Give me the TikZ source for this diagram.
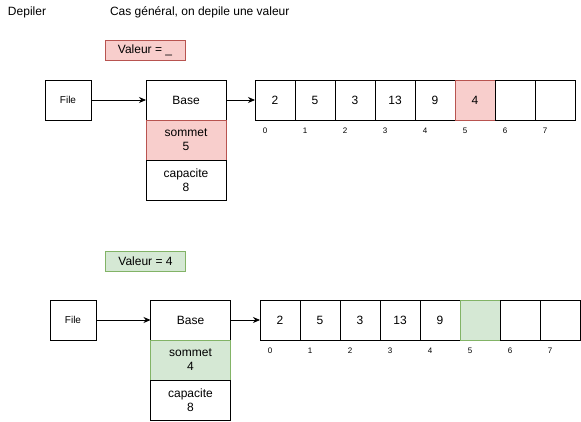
\documentclass[tikz,border=0pt]{standalone}
\usepackage{fontspec}
\setmainfont{Liberation Sans}
\usetikzlibrary{arrows.meta,positioning}
\definecolor{redfill}{HTML}{F8CECC}
\definecolor{redline}{HTML}{B85450}
\definecolor{greenfill}{HTML}{D5E8D4}
\definecolor{greenline}{HTML}{82B366}

\begin{document}
\begin{tikzpicture}[x=1pt, y=-1pt, line width=0.8pt,
    every node/.style={font=\fontsize{12}{14}\selectfont, inner sep=0pt, outer sep=0pt},
    box/.style={rectangle, draw, fill=white, minimum width=80pt, minimum height=40pt, align=center},
    filebox/.style={rectangle, draw, minimum width=46pt, minimum height=40pt,
        font=\fontsize{10}{12}\selectfont},
    cell/.style={rectangle, draw, minimum width=40pt, minimum height=40pt},
    idx/.style={font=\fontsize{8}{10}\selectfont},
    valbox/.style={rectangle, draw, minimum width=80pt, minimum height=20pt},
    redbox/.style={fill=redfill, draw=redline},
    greenbox/.style={fill=greenfill, draw=greenline},
    link/.style={-{Stealth[length=7pt, width=6pt]}},
]
\useasboundingbox (0,0) rectangle (581,422);

% Titles
\node[anchor=west] (title) at (8,12) {Depiler};
\node[anchor=west] (case) at (110,12) {Cas général, on depile une valeur};

% Before
\node[valbox, redbox] (valA) at (145,50) {Valeur = \_};
\node[filebox] (fileA) at (68,100) {File};
\node[box] (baseA) at (186,100) {Base};
\node[box, redbox, below=0pt of baseA] (topA) {sommet\\5};
\node[box, below=0pt of topA] (capA) {capacite\\8};
\foreach \v [count=\i from 0] in {2,5,3,13,9,4,{},{}} {
    \ifnum\i=5
        \node[cell, redbox] (a\i) at (275+40*\i,100) {\v};
    \else
        \node[cell] (a\i) at (275+40*\i,100) {\v};
    \fi
    \node[idx] (ia\i) at (265+40*\i,131) {\i};
}
\draw[link] (fileA) -- (baseA);
\draw[link] (baseA) -- (a0);

% After
\node[valbox, greenbox] (valB) at (145.5,261) {Valeur = 4};
\node[filebox] (fileB) at (73,320) {File};
\node[box] (baseB) at (190.5,320) {Base};
\node[box, greenbox, below=0pt of baseB] (topB) {sommet\\4};
\node[box, below=0pt of topB] (capB) {capacite\\8};
\foreach \v [count=\i from 0] in {2,5,3,13,9,{},{},{}} {
    \ifnum\i=5
        \node[cell, greenbox] (b\i) at (280+40*\i,320) {\v};
    \else
        \node[cell] (b\i) at (280+40*\i,320) {\v};
    \fi
    \node[idx] (ib\i) at (270+40*\i,351) {\i};
}
\draw[link] (fileB) -- (baseB);
\draw[link] (baseB) -- (b0);
\end{tikzpicture}
\end{document}
